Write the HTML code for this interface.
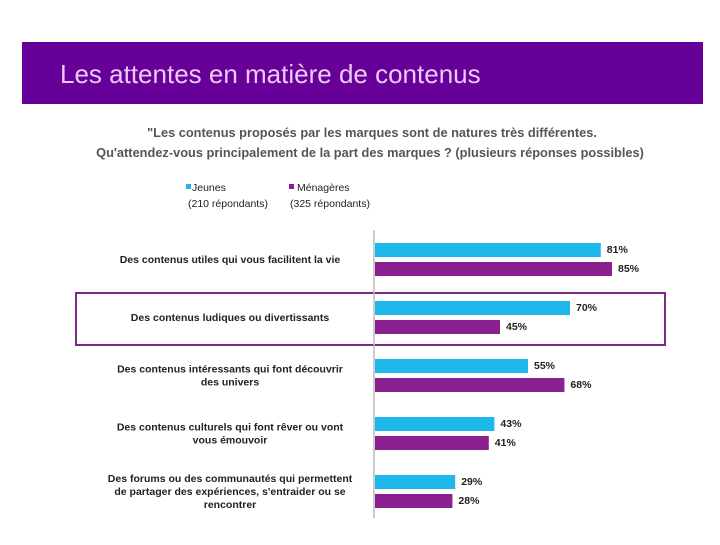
<!DOCTYPE html>
<html><head><meta charset="utf-8"><style>
body{margin:0;width:720px;height:540px;background:#fff;overflow:hidden;font-family:"Liberation Sans",sans-serif}
</style></head><body>
<svg width="720" height="540">
<rect x="22" y="42" width="681" height="62" fill="#660099"/>
<text x="60" y="83" font-size="26" fill="#efc9f5">Les attentes en matière de contenus</text>
<text x="372" y="137" font-size="12.8" fill="#555" text-anchor="middle" font-weight="bold">"Les contenus proposés par les marques sont de natures très différentes.</text>
<text x="370" y="157" font-size="12.8" fill="#555" text-anchor="middle" font-weight="bold">Qu'attendez-vous principalement de la part des marques ? (plusieurs réponses possibles)</text>
<g>
<rect x="186" y="184" width="5" height="5" fill="#1fb8ea"/>
<text x="192" y="191" font-size="10.5" fill="#222">Jeunes</text>
<text x="188" y="207" font-size="10.5" fill="#222">(210 répondants)</text>
<rect x="289" y="184" width="5" height="5" fill="#8a1f8e"/>
<text x="297" y="191" font-size="10.5" fill="#222">Ménagères</text>
<text x="290" y="207" font-size="10.5" fill="#222">(325 répondants)</text>
</g>
<rect x="76" y="293" width="589" height="52" fill="none" stroke="#7a2a86" stroke-width="2"/>
<line x1="374" y1="230" x2="374" y2="518" stroke="#bbb" stroke-width="1.5"/>
<g id="bars"></g>
</svg>
<script>
const categories=[["Des contenus utiles qui vous facilitent la vie"],["Des contenus ludiques ou divertissants"],["Des contenus intéressants qui font découvrir","des univers"],["Des contenus culturels qui font rêver ou vont","vous émouvoir"],["Des forums ou des communautés qui permettent","de partager des expériences, s'entraider ou se","rencontrer"]];
const jeunes=[81,70,55,43,29];
const menageres=[85,45,68,41,28];
const x0=374, k=2.8, gy0=243, gstep=58, bh=14;
const xs=v=>x0+v*k;
const g=document.getElementById('bars');
const NS='http://www.w3.org/2000/svg';
function mk(t,a){const e=document.createElementNS(NS,t);for(const n in a)e.setAttribute(n,a[n]);g.appendChild(e);return e;}
categories.forEach((c,i)=>{
 const y=gy0+i*gstep;
 [[jeunes,'#1fb8ea',0,'bar-jeunes-'],[menageres,'#8a1f8e',19,'bar-menageres-']].forEach(s=>{
  const v=s[0][i];
  const r=mk('rect',{x:x0+1,y:y+s[2],width:xs(v)-x0-1,height:bh,fill:s[1]});
  
  
  const t=mk('text',{x:xs(v)+6,y:y+s[2]+10,'font-size':10.5,'font-weight':'bold',fill:'#222'});
  t.textContent=v+'%';
  
  
 });
 const cy=y+16-(c.length-1)*6.5;
 c.forEach((ln,j)=>{
  const t=mk('text',{x:230,y:cy+j*13+4,'font-size':10.5,'font-weight':'bold',fill:'#222','text-anchor':'middle'});
  t.textContent=ln;
  
  
 });
});
</script>
</body></html>
